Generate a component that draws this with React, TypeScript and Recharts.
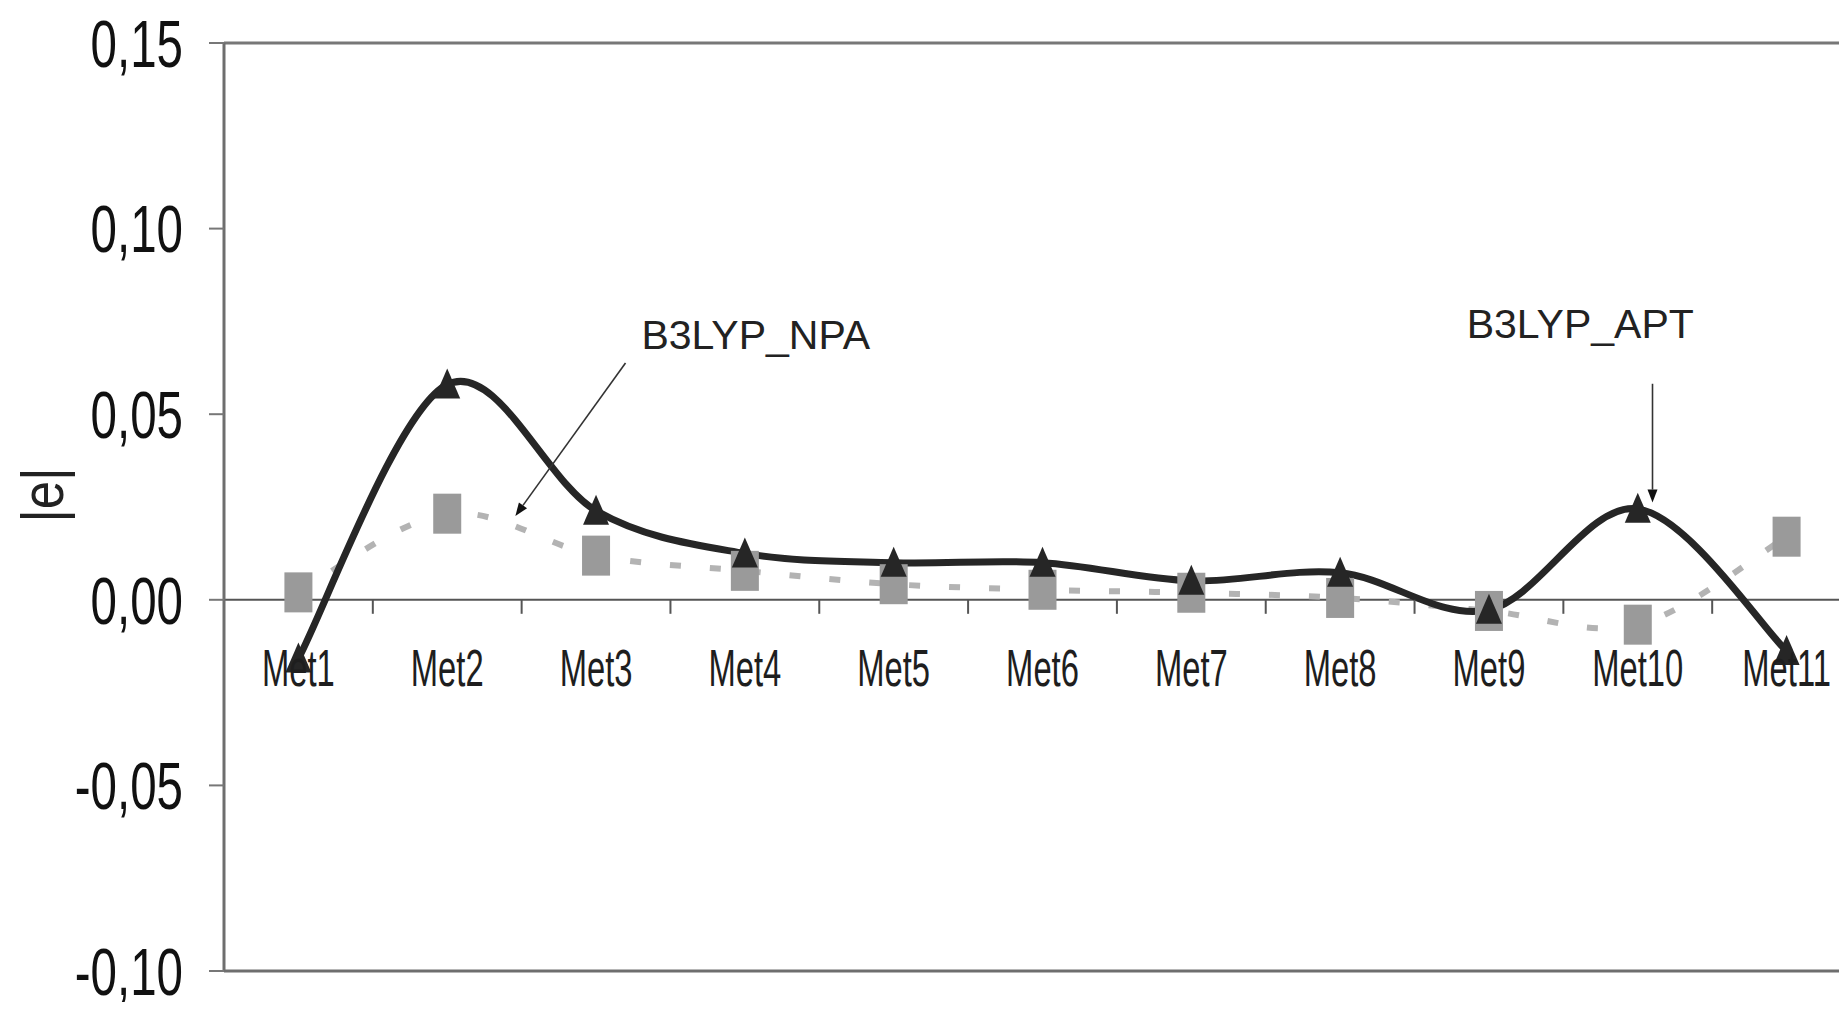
import React from 'react';
import { LineChart, Line, XAxis, YAxis, ReferenceLine, ReferenceDot } from 'recharts';

// ---------- data ----------
const categories = ['Met1', 'Met2', 'Met3', 'Met4', 'Met5', 'Met6', 'Met7', 'Met8', 'Met9', 'Met10', 'Met11'];
const aptValues = [-0.0158, 0.058, 0.024, 0.0125, 0.01, 0.01, 0.0051, 0.0073, -0.0027, 0.0245, -0.0138];
const npaValues = [0.002, 0.0232, 0.0119, 0.0078, 0.0042, 0.0027, 0.0019, 0.0005, -0.003, -0.0067, 0.017];
const yTicks = [-0.1, -0.05, 0, 0.05, 0.1, 0.15];
const yDomain = [-0.1, 0.15];

// annotation anchors (category index units, value units)
const npaLabelAnchor = [2.305, 0.0676];
const npaArrow = [[2.198, 0.0638], [1.458, 0.0226]];
const aptLabelAnchor = [7.85, 0.0706];
const aptArrow = [[9.099, 0.0582], [9.099, 0.0262]];

// ---------- layout ----------
const CHART_W = 1880;
const CHART_H = 1000;
const MARGIN = { top: 35, right: 27, left: 0, bottom: 0 };
const Y_AXIS_W = 216;
const X_AXIS_H = 37;
const PLOT_W = CHART_W - MARGIN.left - MARGIN.right - Y_AXIS_W;
const PLOT_H = CHART_H - MARGIN.top - MARGIN.bottom - X_AXIS_H;
const BAND = PLOT_W / categories.length;
const ZERO_Y = MARGIN.top + (PLOT_H * yDomain[1]) / (yDomain[1] - yDomain[0]);
const FONT = '"Liberation Sans", Arial, Helvetica, sans-serif';

const data = categories.map((name, i) => ({ name, apt: aptValues[i], npa: npaValues[i] }));

// Excel-like smoothing (Catmull-Rom through points)
const excelSmooth: any = (context: any) => {
  let pts: number[][] = [];
  return {
    areaStart() {},
    areaEnd() {},
    lineStart() {
      pts = [];
    },
    point(x: number, y: number) {
      pts.push([+x, +y]);
    },
    lineEnd() {
      const n = pts.length;
      if (!n) return;
      context.moveTo(pts[0][0], pts[0][1]);
      for (let i = 0; i < n - 1; i++) {
        const p0 = pts[Math.max(i - 1, 0)];
        const p1 = pts[i];
        const p2 = pts[i + 1];
        const p3 = pts[Math.min(i + 2, n - 1)];
        context.bezierCurveTo(
          p1[0] + (p2[0] - p0[0]) / 6,
          p1[1] + (p2[1] - p0[1]) / 6,
          p2[0] - (p3[0] - p1[0]) / 6,
          p2[1] - (p3[1] - p1[1]) / 6,
          p2[0],
          p2[1]
        );
      }
    },
  };
};

const fmt = (v: number) => {
  const s = (Math.abs(v) < 1e-9 ? 0 : v).toFixed(2);
  return s.replace('.', ',');
};

const YTick = (props: any) => {
  const { x, y, payload } = props;
  return (
    <text
      transform={`translate(${x},${y}) scale(0.72,1)`}
      textAnchor="end"
      dy="0.36em"
      fontSize={66}
      fontFamily={FONT}
      fill="#111"
    >
      {fmt(payload.value)}
    </text>
  );
};

const XTick = (props: any) => {
  const { x, payload, index } = props;
  return (
    <g>
      {index > 0 && (
        <line x1={x - BAND / 2} x2={x - BAND / 2} y1={ZERO_Y} y2={ZERO_Y + 14} stroke="#555" strokeWidth={2} />
      )}
      <text
        transform={`translate(${x},${ZERO_Y + 86}) scale(0.63,1)`}
        textAnchor="middle"
        fontSize={52}
        fontFamily={FONT}
        fill="#1e1e1e"
      >
        {payload.value}
      </text>
    </g>
  );
};

const SquareDot = (props: any) => {
  const { cx, cy, index } = props;
  if (cx == null || cy == null) return <g key={`sq-${index}`} />;
  return <rect key={`sq-${index}`} x={cx - 14} y={cy - 20} width={28} height={40} fill="#9a9a9a" />;
};

const TriangleDot = (props: any) => {
  const { cx, cy, index } = props;
  if (cx == null || cy == null) return <g key={`tr-${index}`} />;
  return (
    <polygon
      key={`tr-${index}`}
      points={`${cx},${cy - 16} ${cx + 13},${cy + 14} ${cx - 13},${cy + 14}`}
      fill="#262626"
    />
  );
};

const Arrow = (props: any) => {
  const { x1, y1, x2, y2 } = props;
  const ang = Math.atan2(y2 - y1, x2 - x1);
  const L = 13;
  const W = 5;
  const bx = x2 - L * Math.cos(ang);
  const by = y2 - L * Math.sin(ang);
  const px = -Math.sin(ang) * W;
  const py = Math.cos(ang) * W;
  return (
    <g>
      <line x1={x1} y1={y1} x2={bx} y2={by} stroke="#333" strokeWidth={1.6} />
      <polygon points={`${x2},${y2} ${bx + px},${by + py} ${bx - px},${by - py}`} fill="#111" />
    </g>
  );
};

const makeTextShape = (text: string) => (props: any) => {
  const { cx, cy } = props;
  return (
    <text x={cx} y={cy} fontSize={41} fontFamily={FONT} fill="#222" textAnchor="start">
      {text}
    </text>
  );
};

const YLabel = (props: any) => {
  const vb = props.viewBox || { x: 0, y: MARGIN.top, width: Y_AXIS_W, height: PLOT_H };
  const x = vb.x + 39;
  const y = vb.y + vb.height / 2 - 12;
  return (
    <text
      transform={`translate(${x},${y}) rotate(-90) scale(0.85,1)`}
      textAnchor="middle"
      dy="0.26em"
      fontSize={60}
      fontFamily={FONT}
      fill="#222"
    >
      |e|
    </text>
  );
};

export default function App() {
  return (
    <div style={{ width: 1839, height: 1002, marginBottom: -8, overflow: 'hidden', background: '#fff' }}>
      <LineChart width={CHART_W} height={CHART_H} data={data} margin={MARGIN}>
        <XAxis
          dataKey="name"
          height={X_AXIS_H}
          padding={{ left: BAND / 2, right: BAND / 2 }}
          axisLine={{ stroke: '#6e6e6e', strokeWidth: 3 }}
          tickLine={false}
          tick={<XTick />}
          interval={0}
        />
        <XAxis
          xAxisId="num"
          type="number"
          domain={[0, categories.length - 1]}
          padding={{ left: BAND / 2, right: BAND / 2 }}
          allowDataOverflow
          hide
        />
        <YAxis
          width={Y_AXIS_W}
          domain={yDomain}
          ticks={yTicks}
          allowDataOverflow
          interval={0}
          tickSize={15}
          tickMargin={26}
          axisLine={{ stroke: '#6e6e6e', strokeWidth: 3 }}
          tickLine={{ stroke: '#777', strokeWidth: 2 }}
          tick={<YTick />}
          label={{ content: <YLabel /> }}
        />
        <ReferenceLine y={0.15} stroke="#777" strokeWidth={3} />
        <ReferenceLine y={0} stroke="#555" strokeWidth={2} />
        <Line
          dataKey="npa"
          type={excelSmooth}
          stroke="#b3b3b3"
          strokeWidth={6}
          strokeDasharray="11 29"
          dot={SquareDot}
          activeDot={false}
          isAnimationActive={false}
        />
        <Line
          dataKey="apt"
          type={excelSmooth}
          stroke="#262626"
          strokeWidth={7}
          dot={TriangleDot}
          activeDot={false}
          isAnimationActive={false}
        />
        <ReferenceLine
          xAxisId="num"
          segment={[
            { x: npaArrow[0][0], y: npaArrow[0][1] },
            { x: npaArrow[1][0], y: npaArrow[1][1] },
          ]}
          shape={Arrow}
        />
        <ReferenceLine
          xAxisId="num"
          segment={[
            { x: aptArrow[0][0], y: aptArrow[0][1] },
            { x: aptArrow[1][0], y: aptArrow[1][1] },
          ]}
          shape={Arrow}
        />
        <ReferenceDot
          xAxisId="num"
          x={npaLabelAnchor[0]}
          y={npaLabelAnchor[1]}
          r={1}
          shape={makeTextShape('B3LYP_NPA')}
        />
        <ReferenceDot
          xAxisId="num"
          x={aptLabelAnchor[0]}
          y={aptLabelAnchor[1]}
          r={1}
          shape={makeTextShape('B3LYP_APT')}
        />
      </LineChart>
    </div>
  );
}
